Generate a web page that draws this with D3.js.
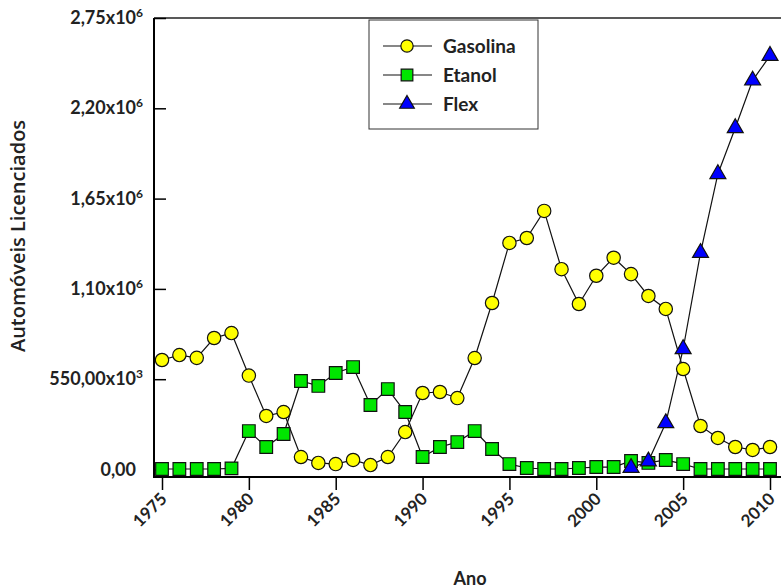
<!DOCTYPE html>
<html>
<head>
<meta charset="utf-8">
<script src="https://cdn.jsdelivr.net/npm/d3@7"></script>
<style>
  body { margin: 0; background: #fff; }
  svg { display: block; }
  text { font-family: Lato, "Open Sans", sans-serif; }
</style>
</head>
<body>
<div class="chart"></div>
<script>
// --- data ---
const years = d3.range(1975, 2011);
const gasolina = [667000, 697000, 680000, 801000, 831000, 572000, 326000, 350000, 76000, 40000,
  33000, 58000, 27000, 76000, 228000, 466000, 472000, 435000, 679000, 1014000,
  1380000, 1410000, 1575000, 1220000, 1008000, 1180000, 1290000, 1190000, 1057000, 978000,
  612000, 265000, 192000, 137000, 119000, 137000];
const etanol = [3000, 3000, 3000, 3000, 7000, 234000, 137000, 216000, 539000, 509000,
  588000, 624000, 393000, 490000, 350000, 76000, 137000, 167000, 234000, 125000,
  33000, 9000, 3000, 3000, 9000, 15000, 15000, 52000, 40000, 58000,
  33000, 3000, 3000, 3000, 3000, 3000];
const flexYears = [2002, 2003, 2004, 2005, 2006, 2007, 2008, 2009, 2010];
const flex = [10000, 50000, 283000, 734000, 1320000, 1800000, 2080000, 2370000, 2520000];
const yTicks = [0, 550000, 1100000, 1650000, 2200000, 2750000];
const yTickLabels = [["0,00", ""], ["550,00x10", "3"], ["1,10x10", "6"], ["1,65x10", "6"], ["2,20x10", "6"], ["2,75x10", "6"]];
const xTicks = [1975, 1980, 1985, 1990, 1995, 2000, 2005, 2010];

const W = 781, H = 588;
const axisX = 154, axisY = 477, topY = 18;

const svg = d3.select(".chart").append("svg")
  .attr("width", W).attr("height", H);

const x = d3.scaleLinear().domain([1975, 2010]).range([162, 770]);
const y = d3.scaleLinear().domain([0, 2750000]).range([469.5, 18]);

// --- frame: top line ---
svg.append("line")
  .attr("x1", axisX).attr("x2", W).attr("y1", topY).attr("y2", topY)
  .attr("stroke", "#222").attr("stroke-width", 1.5);

// --- y axis (ticks point inward) ---
const yAxis = svg.append("g")
  .attr("transform", `translate(${axisX},0)`)
  .call(d3.axisLeft(y).tickValues(yTicks).tickSizeInner(-12).tickSizeOuter(0).tickFormat(""));
yAxis.select(".domain").remove();
yAxis.selectAll(".tick line").attr("stroke", "#000").attr("stroke-width", 1.5);
svg.append("line")
  .attr("x1", axisX).attr("x2", axisX).attr("y1", topY).attr("y2", axisY + 1)
  .attr("stroke", "#000").attr("stroke-width", 2);

yTicks.forEach((v, i) => {
  const t = svg.append("text")
    .attr("x", yTickLabels[i][1] ? 143 : 136).attr("y", y(v) + 6)
    .attr("text-anchor", "end")
    .style("font-size", "18px").style("font-weight", "bold").style("fill", "#222");
  t.append("tspan").text(yTickLabels[i][0]);
  if (yTickLabels[i][1]) {
    t.append("tspan").attr("dy", -7).style("font-size", "12px").text(yTickLabels[i][1]);
  }
});

// --- x axis (ticks point down) ---
const xAxis = svg.append("g")
  .attr("transform", `translate(0,${axisY})`)
  .call(d3.axisBottom(x).tickValues(xTicks).tickSizeInner(13).tickSizeOuter(0).tickFormat(""));
xAxis.select(".domain").remove();
xAxis.selectAll(".tick line").attr("stroke", "#000").attr("stroke-width", 1.5);
svg.append("line")
  .attr("x1", axisX).attr("x2", W).attr("y1", axisY).attr("y2", axisY)
  .attr("stroke", "#000").attr("stroke-width", 2);

svg.selectAll(".xlab")
  .data(xTicks)
  .join("text")
  .attr("class", "xlab")
  .attr("transform", d => `translate(${x(d) + 6},${axisY + 23}) rotate(-45)`)
  .attr("text-anchor", "end")
  .style("font-size", "17px").style("font-weight", "bold").style("fill", "#222")
  .text(d => d);

// --- axis titles ---
svg.append("text")
  .attr("x", 470).attr("y", 585)
  .attr("text-anchor", "middle")
  .style("font-size", "18px").style("font-weight", "bold").style("fill", "#222")
  .text("Ano");
svg.append("text")
  .attr("transform", "translate(25,236) rotate(-90)")
  .attr("text-anchor", "middle")
  .style("font-family", "'Open Sans', sans-serif")
  .style("font-size", "20px").style("font-weight", "600").style("fill", "#222")
  .text("Automóveis Licenciados");

// --- series ---
const line = d3.line().x(d => x(d[0])).y(d => y(d[1]));
const series = [
  { name: "Gasolina", pts: d3.zip(years, gasolina), fill: "#ffff00", shape: d3.symbolCircle, size: 140 },
  { name: "Etanol", pts: d3.zip(years, etanol), fill: "#00e600", shape: d3.symbolSquare, size: 160 },
  { name: "Flex", pts: d3.zip(flexYears, flex), fill: "#0000ff", shape: d3.symbolTriangle, size: 110 }
];

series.forEach(s => {
  svg.append("path")
    .datum(s.pts)
    .attr("d", line)
    .attr("fill", "none").attr("stroke", "#111").attr("stroke-width", 1.2);
});
series.forEach(s => {
  svg.selectAll(null)
    .data(s.pts)
    .join("path")
    .attr("transform", d => `translate(${x(d[0])},${y(d[1])})`)
    .attr("d", d3.symbol(s.shape, s.size))
    .attr("fill", s.fill).attr("stroke", "#111").attr("stroke-width", 1.2);
});

// --- legend ---
const legend = svg.append("g").attr("transform", "translate(369,20)");
legend.append("rect")
  .attr("width", 169).attr("height", 109)
  .attr("fill", "#fff").attr("stroke", "#333").attr("stroke-width", 1);
const rows = legend.selectAll(".row")
  .data(series)
  .join("g")
  .attr("transform", (d, i) => `translate(0,${26 + i * 29})`);
rows.append("line")
  .attr("x1", 14).attr("x2", 63)
  .attr("stroke", "#111").attr("stroke-width", 1.2);
rows.append("path")
  .attr("transform", "translate(38,0)")
  .attr("d", d => d3.symbol(d.shape, d.size * 0.85)())
  .attr("fill", d => d.fill).attr("stroke", "#111").attr("stroke-width", 1.2);
rows.append("text")
  .attr("x", 74).attr("y", 7)
  .style("font-size", "19px").style("font-weight", "bold").style("fill", "#222")
  .text(d => d.name);
</script>
</body>
</html>
